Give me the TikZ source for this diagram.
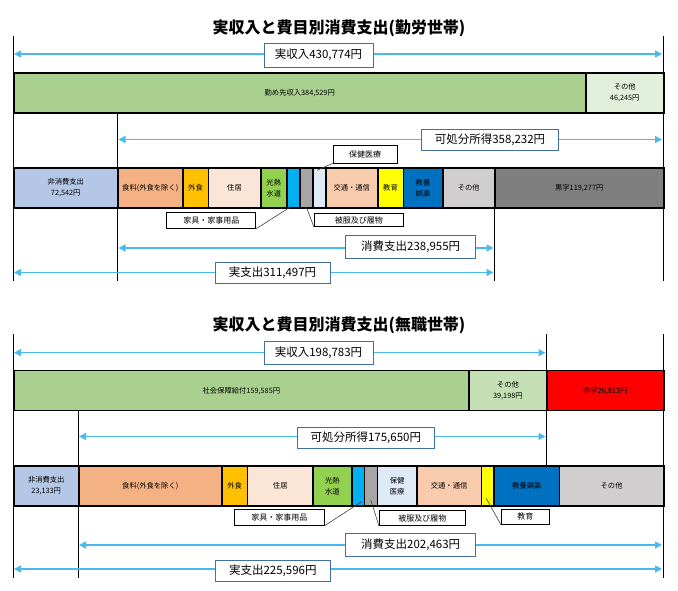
\documentclass[tikz,border=0pt]{standalone}
\usepackage{fontspec}
\setmainfont{Noto Sans CJK JP}
\usetikzlibrary{arrows.meta}
\definecolor{cWage}{RGB}{169,208,142}
\definecolor{cOthA}{RGB}{226,239,218}
\definecolor{cOthB}{RGB}{197,224,180}
\definecolor{cTax}{RGB}{180,199,231}
\definecolor{cFood}{RGB}{244,177,131}
\definecolor{cMeal}{RGB}{255,192,0}
\definecolor{cHouse}{RGB}{251,229,214}
\definecolor{cFuel}{RGB}{146,208,80}
\definecolor{cFurn}{RGB}{0,176,240}
\definecolor{cCloth}{RGB}{166,166,166}
\definecolor{cMed}{RGB}{222,235,247}
\definecolor{cTrans}{RGB}{248,203,173}
\definecolor{cEdu}{RGB}{255,255,0}
\definecolor{cCult}{RGB}{0,112,192}
\definecolor{cMisc}{RGB}{208,206,206}
\definecolor{cSurp}{RGB}{127,127,127}
\definecolor{cArrow}{RGB}{72,186,238}
\definecolor{cBox}{RGB}{65,113,156}
\begin{document}
\begin{tikzpicture}[x=1pt,y=-1pt,
    seg/.style={draw,line width=1.5pt,minimum height=40pt,inner sep=0pt,anchor=west,
      align=center,font=\fontsize{7.3}{11}\selectfont},
    guide/.style={line width=0.8pt},
    span/.style={{Triangle[length=7pt,width=7pt]}-{Triangle[length=7pt,width=7pt]},
      draw=cArrow,line width=1.5pt},
    spanlbl/.style={draw=cBox,line width=0.8pt,fill=white,inner sep=0pt,
      font=\fontsize{11.5}{12}\selectfont},
    callout/.style={draw,line width=0.8pt,fill=white,inner sep=0pt,
      font=\fontsize{8}{9}\selectfont},
    leader/.style={draw=black!75,line width=0.6pt},
    heading/.style={font=\fontsize{16}{17}\selectfont\bfseries}]
  \useasboundingbox (0,0) rectangle (678,591);
  % ---------- 勤労世帯 ----------
  \node[heading] (titleA) at (339,28) {実収入と費目別消費支出(勤労世帯)};
  \draw[guide] (13,36) -- (13,281);
  \draw[guide] (663,36) -- (663,281);
  \draw[guide] (117,113) -- (117,281);
  \draw[guide] (494,208) -- (494,281);
  %
  \node[seg,fill=cWage,minimum width=572] (wageA) at (13,93) {勤め先収入384,529円};
  \node[seg,fill=cOthA,minimum width=78] (othA) at (585,93) {その他\\46,245円};
  %
  \node[seg,fill=cTax,minimum width=104] (taxA) at (13,188) {非消費支出\\72,542円};
  \node[seg,fill=cFood,minimum width=65] (foodA) at (117,188) {食料(外食を除く)};
  \node[seg,fill=cMeal,minimum width=25.5] (mealA) at (182,188) {外食};
  \node[seg,fill=cHouse,minimum width=52.5] (houseA) at (207.5,188) {住居};
  \node[seg,fill=cFuel,minimum width=26] (fuelA) at (260,188) {光熱\\水道};
  \node[seg,fill=cFurn,minimum width=13] (furnA) at (286,188) {};
  \node[seg,fill=cCloth,minimum width=13] (clothA) at (299,188) {};
  \node[seg,fill=cMed,minimum width=13] (medA) at (312,188) {};
  \node[seg,fill=cTrans,minimum width=52] (transA) at (325,188) {交通・通信};
  \node[seg,fill=cEdu,minimum width=25.5] (eduA) at (377,188) {教育};
  \node[seg,fill=cCult,minimum width=39.5] (cultA) at (402.5,188) {教養\\娯楽};
  \node[seg,fill=cMisc,minimum width=52] (miscA) at (442,188) {その他};
  \node[seg,fill=cSurp,minimum width=169] (surpA) at (494,188) {黒字119,277円};
  %
  \coordinate (incAl) at (14,54);
  \coordinate (incAr) at (662,54);
  \draw[span] (incAl) -- (incAr);
  \node[spanlbl,minimum width=109,minimum height=24] (incAlbl) at (318.5,55) {実収入430,774円};
  \coordinate (dispAl) at (118.5,139.5);
  \coordinate (dispAr) at (662,139.5);
  \draw[span] (dispAl) -- (dispAr);
  \node[spanlbl,minimum width=137,minimum height=21.5] (dispAlbl) at (490,140) {可処分所得358,232円};
  \coordinate (consAl) at (118.5,248);
  \coordinate (consAr) at (493.5,248);
  \draw[span] (consAl) -- (consAr);
  \node[spanlbl,minimum width=130,minimum height=22.5] (consAlbl) at (410.7,247) {消費支出238,955円};
  \coordinate (realAl) at (14,272.5);
  \coordinate (realAr) at (493.5,272.5);
  \draw[span] (realAl) -- (realAr);
  \node[spanlbl,minimum width=115,minimum height=21] (realAlbl) at (272.5,272.8) {実支出311,497円};
  %
  \node[callout,minimum width=64,minimum height=18] (medAlbl) at (365,154) {保健医療};
  \draw[leader] (medAlbl.south west) -- ([xshift=-2pt,yshift=-3pt]medA.north);
  \node[callout,minimum width=89,minimum height=16] (furnAlbl) at (211.3,220.3) {家具・家事用品};
  \draw[leader] (furnAlbl.south east) -- ([xshift=-2.5pt,yshift=2pt]furnA.south);
  \node[callout,minimum width=89,minimum height=13.5] (clothAlbl) at (358.8,220) {被服及び履物};
  \draw[leader] (clothAlbl.south west) -- ([yshift=2pt]clothA.south);
  % ---------- 無職世帯 ----------
  \node[heading] (titleB) at (339,325) {実収入と費目別消費支出(無職世帯)};
  \draw[guide] (13,334) -- (13,578);
  \draw[guide] (663,334) -- (663,578);
  \draw[guide] (78,411) -- (78,578);
  \draw[guide] (546,334) -- (546,466);
  %
  \node[seg,fill=cWage,minimum width=455.3] (socB) at (13,390.7) {社会保障給付159,585円};
  \node[seg,fill=cOthB,minimum width=77.7] (othB) at (468.3,390.7) {その他\\39,198円};
  \node[seg,fill=red,minimum width=117] (defB) at (546,390.7) {赤字26,813円};
  %
  \node[seg,fill=cTax,minimum width=65] (taxB) at (13,486) {非消費支出\\23,133円};
  \node[seg,fill=cFood,minimum width=143] (foodB) at (78,486) {食料(外食を除く)};
  \node[seg,fill=cMeal,minimum width=25.7] (mealB) at (221,486) {外食};
  \node[seg,fill=cHouse,minimum width=65.6] (houseB) at (246.7,486) {住居};
  \node[seg,fill=cFuel,minimum width=38.7] (fuelB) at (312.3,486) {光熱\\水道};
  \node[seg,fill=cFurn,minimum width=12.5] (furnB) at (351,486) {};
  \node[seg,fill=cCloth,minimum width=13.2] (clothB) at (363.5,486) {};
  \node[seg,fill=cMed,minimum width=39.3] (medB) at (376.7,486) {保健\\医療};
  \node[seg,fill=cTrans,minimum width=64.7] (transB) at (416,486) {交通・通信};
  \node[seg,fill=cEdu,minimum width=12.6] (eduB) at (480.7,486) {};
  \node[seg,fill=cCult,minimum width=65.4] (cultB) at (493.3,486) {教養娯楽};
  \node[seg,fill=cMisc,minimum width=104.3] (miscB) at (558.7,486) {その他};
  %
  \coordinate (incBl) at (14,352.7);
  \coordinate (incBr) at (545.5,352.7);
  \draw[span] (incBl) -- (incBr);
  \node[spanlbl,minimum width=109,minimum height=22.3] (incBlbl) at (318.5,352.8) {実収入198,783円};
  \coordinate (dispBl) at (79,436.5);
  \coordinate (dispBr) at (545.5,436.5);
  \draw[span] (dispBl) -- (dispBr);
  \node[spanlbl,minimum width=137,minimum height=21] (dispBlbl) at (365.8,437.8) {可処分所得175,650円};
  \coordinate (consBl) at (79,545);
  \coordinate (consBr) at (662,545);
  \draw[span] (consBl) -- (consBr);
  \node[spanlbl,minimum width=130,minimum height=23.4] (consBlbl) at (410.7,545) {消費支出202,463円};
  \coordinate (realBl) at (14,569);
  \coordinate (realBr) at (662,569);
  \draw[span] (realBl) -- (realBr);
  \node[spanlbl,minimum width=115,minimum height=21] (realBlbl) at (272.8,571.2) {実支出225,596円};
  %
  \node[callout,minimum width=90,minimum height=16] (furnBlbl) at (279.3,517.3) {家具・家事用品};
  \draw[leader] (furnBlbl.south east) -- ([xshift=3.5pt,yshift=5pt]furnB.south);
  \node[callout,minimum width=86,minimum height=14.6] (clothBlbl) at (422.3,518) {被服及び履物};
  \draw[leader] (clothBlbl.south west) -- ([yshift=6.5pt]clothB.south);
  \node[callout,minimum width=48,minimum height=15] (eduBlbl) at (525.3,516.8) {教育};
  \draw[leader] (eduBlbl.south west) -- ([xshift=-1.5pt,yshift=8.5pt]eduB.south);
\end{tikzpicture}
\end{document}
